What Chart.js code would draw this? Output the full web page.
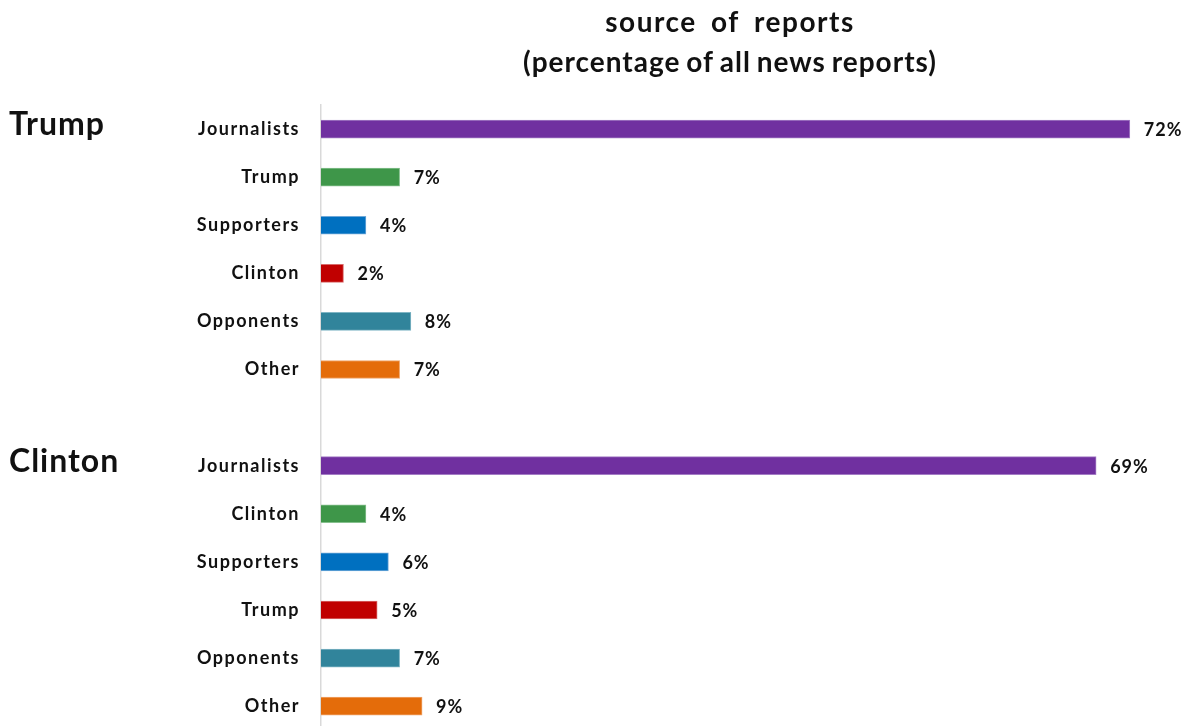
<!DOCTYPE html>
<html>
<head>
<meta charset="utf-8">
<title>source of reports</title>
<script src="https://cdn.jsdelivr.net/npm/chart.js@4/dist/chart.umd.min.js"></script>
<style>
    html, body { margin: 0; padding: 0; background: #fff; overflow: hidden; }
    canvas { display: block; }
</style>
</head>
<body>
<canvas id="sourceChart" width="1193" height="762"></canvas>
<script>
// ---- data ----
const sources = ["Journalists", "Trump", "Supporters", "Clinton", "Opponents", "Other", "",
                 "Journalists", "Clinton", "Supporters", "Trump", "Opponents", "Other"];
const shares = [72, 7, 4, 2, 8, 7, null, 69, 4, 6, 5, 7, 9];
const candidates = ["Trump", "Clinton"];
const candidateRows = [0, 7]; // row where each candidate block starts
const titleLines = ["source of reports", "(percentage of all news reports)"];

const rowColors = ["#7030a0", "#3e9649", "#0070c0", "#c00000", "#31849b", "#e46c0a"];
const rowBorders = ["#a37cc4", "#86c08e", "#6fa8d8", "#d86a6a", "#7fb5c4", "#f0a56a"];
const barColors = [];
const borderColors = [];
sources.forEach(function (s, i) {
    let k = i < 6 ? i : i - 7;
    barColors.push(k >= 0 ? rowColors[k] : "transparent");
    borderColors.push(k >= 0 ? rowBorders[k] : "transparent");
});

const FONT = "Lato, 'Open Sans', sans-serif";

// value labels, title and candidate names
const labelsPlugin = {
    id: "labels",
    beforeDraw: function (chart) {
        // wider tracking for the axis labels
        chart.ctx.letterSpacing = "1.5px";
    },
    afterDatasetsDraw: function (chart) {
        let ctx = chart.ctx;
        let meta = chart.getDatasetMeta(0);
        ctx.save();
        ctx.letterSpacing = "1px";
        ctx.font = "bold 18px " + FONT;
        ctx.fillStyle = "#111";
        ctx.textAlign = "left";
        ctx.textBaseline = "middle";
        meta.data.forEach(function (bar, i) {
            if (shares[i] === null) return;
            ctx.fillText(shares[i] + "%", bar.x + 14, bar.y + 1);
        });
        ctx.restore();
    },
    afterDraw: function (chart) {
        let ctx = chart.ctx;
        let yScale = chart.scales.y;
        ctx.save();
        ctx.fillStyle = "#111";
        ctx.textBaseline = "middle";

        ctx.textAlign = "center";
        ctx.font = "bold 28px " + FONT;
        ctx.letterSpacing = "1.5px";
        ctx.wordSpacing = "6px";
        ctx.fillText(titleLines[0], 730, 23);
        ctx.letterSpacing = "1px";
        ctx.wordSpacing = "-2px";
        ctx.fillText(titleLines[1], 730, 63);

        ctx.textAlign = "left";
        ctx.wordSpacing = "0px";
        ctx.letterSpacing = "1px";
        ctx.font = "bold 32px " + FONT;
        candidates.forEach(function (name, i) {
            ctx.fillText(name, 9, yScale.getPixelForValue(candidateRows[i]) - 4);
        });
        ctx.restore();
        ctx.letterSpacing = "0px";
    }
};

new Chart(document.getElementById("sourceChart"), {
    type: "bar",
    data: {
        labels: sources,
        datasets: [{
            data: shares,
            backgroundColor: barColors,
            borderColor: borderColors,
            borderWidth: 1,
            barThickness: 18
        }]
    },
    options: {
        indexAxis: "y",
        responsive: false,
        devicePixelRatio: 1,
        animation: false,
        layout: { padding: { top: 105, right: 7, bottom: 4, left: 0 } },
        plugins: {
            legend: { display: false },
            title: { display: false },
            tooltip: { enabled: false }
        },
        scales: {
            x: { display: false, min: 0, max: 77 },
            y: {
                afterFit: function (scale) { scale.width = 321; },
                grid: { display: false, drawTicks: false },
                border: { display: true, color: "#d9d9d9", width: 1.5 },
                ticks: {
                    padding: 21,
                    color: "#111",
                    font: { family: FONT, size: 18, weight: "bold" }
                }
            }
        }
    },
    plugins: [labelsPlugin]
});
</script>
</body>
</html>
